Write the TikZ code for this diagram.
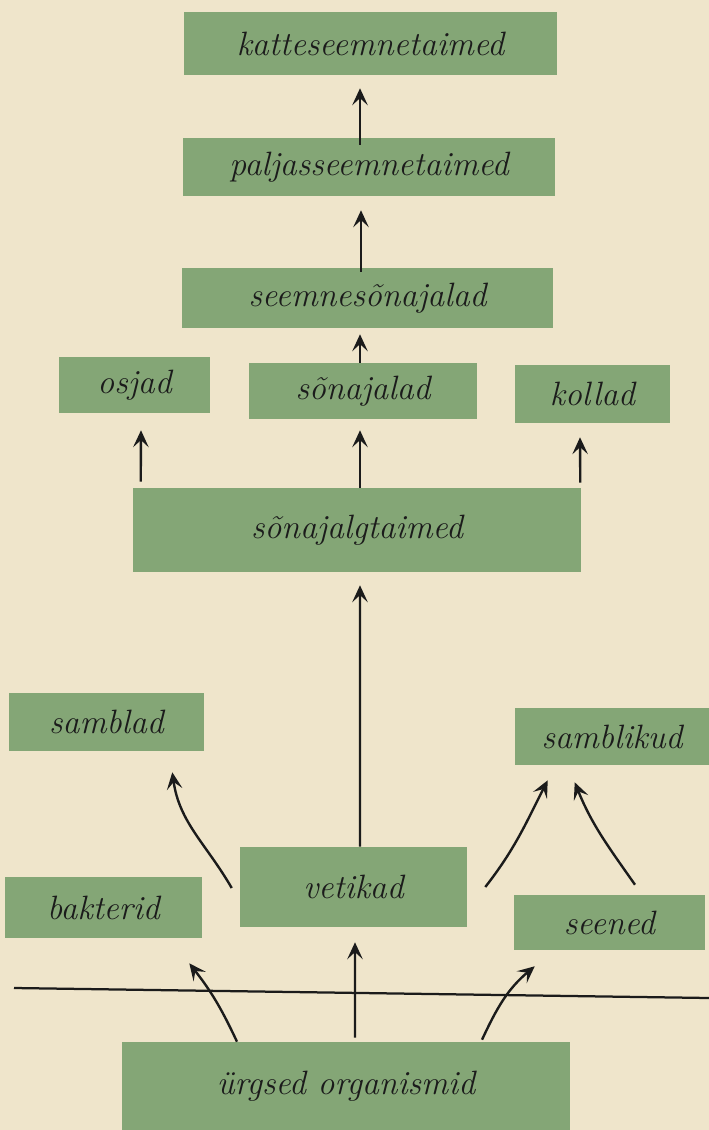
\documentclass[tikz,border=0pt]{standalone}
\usepackage{fontspec}
\usepackage{tikz}
\usetikzlibrary{calc,positioning,arrows.meta}
\definecolor{Paper}{HTML}{EFE5CB}
\definecolor{Leaf}{HTML}{84A676}
\definecolor{Ink}{HTML}{1B1B1B}

\begin{document}
\begin{tikzpicture}[x=0.025cm,y=0.025cm,
    taxon/.style={fill=Leaf,text=Ink,inner sep=0pt,font=\itshape\fontsize{24}{28}\selectfont},
    arr/.style={Ink,line width=1.7pt,-{Stealth[length=12pt,width=11pt,inset=5pt]}}]
        \useasboundingbox (0,0) rectangle (709,-1130);
        \fill[Paper] (0,0) rectangle (709,-1130);
        % boxes: name/x/y/width/height/label
        \foreach \name/\x/\y/\w/\h/\lab in {katte/370.5/43.5/373/63/katteseemnetaimed,
            paljas/369/167/372/58/paljasseemnetaimed,
            seemne/367.5/298/371/60/seemnesõnajalad,
            osjad/134.5/385/151/56/osjad,
            sonajalad/363/391/228/56/sõnajalad,
            kollad/592.5/394/155/58/kollad,
            sonajalgt/357/530/448/84/sõnajalgtaimed,
            samblad/106.5/722/195/58/samblad,
            samblikud/612/736.5/194/57/samblikud,
            vetikad/353.5/887/227/80/vetikad,
            bakterid/103.5/907.5/197/61/bakterid,
            seened/609.5/922.5/191/55/seened,
            yrgsed/346/1086/448/88/ürgsed organismid}{
          \node[taxon,minimum width=\w*0.025cm,minimum height=\h*0.025cm] (\name) at (\x,-\y) {\lab};
        }
        % upper part
        \draw[arr] ([shift={(-9,-7)}]paljas.north) -- ([shift={(-10.5,-13)}]katte.south);
        \draw[arr] ([shift={(-6.5,-4)}]seemne.north) -- ([shift={(-8,-14)}]paljas.south);
        \draw[arr] ([shift={(-3,0)}]sonajalad.north) -- ([shift={(-7.5,-6)}]seemne.south);
        \draw[arr] ([shift={(8,6)}]sonajalgt.north west) -- ([shift={(6.5,-17)}]osjad.south);
        \draw[arr] ([shift={(3,0)}]sonajalgt.north) -- ([shift={(-3,-11)}]sonajalad.south);
        \draw[arr] ([shift={(-1,5)}]sonajalgt.north east) -- ([shift={(-12.5,-14)}]kollad.south);
        \draw[arr] ([shift={(6.5,0)}]vetikad.north) -- ([shift={(3,-13)}]sonajalgt.south);
        % lower part
        \draw[arr] ([shift={(-8,-1)}]vetikad.west) to[out=120,in=-82] ([shift={(-32,-21)}]samblad.south east);
        \draw[arr] ([shift={(18,0)}]vetikad.east) to[out=52,in=-117] ([shift={(33,-15)}]samblikud.south west);
        \draw[arr] ([shift={(25.5,10)}]seened.north) to[out=125,in=-68] ([shift={(60,-17)}]samblikud.south west);
        \draw[arr] ([shift={(-109,0)}]yrgsed.north) to[out=115,in=-52] ([shift={(-13,-25)}]bakterid.south east);
        \draw[arr] ([shift={(9,4)}]yrgsed.north) -- ([shift={(1.5,-15)}]vetikad.south);
        \draw[arr] ([shift={(136,2)}]yrgsed.north) to[out=65,in=-140] ([shift={(21,-16)}]seened.south west);
        \coordinate (lineL) at (14,-988);
        \coordinate (lineR) at (709,-998);
        \draw[Ink,line width=1.6pt] (lineL) -- (lineR);
      \end{tikzpicture}
\end{document}
